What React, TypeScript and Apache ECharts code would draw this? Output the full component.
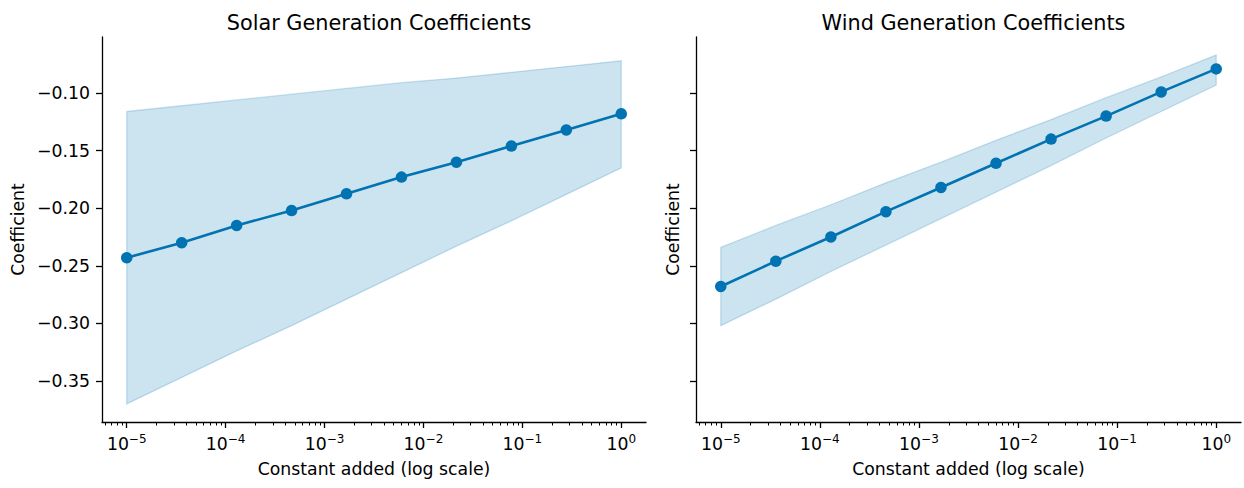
import React, { useEffect, useRef } from "react";
import * as echarts from "echarts";

// Constant added (x) — 10 log-spaced values from 1e-5 to 1
const constants = [1e-5, 3.594e-5, 1.292e-4, 4.642e-4, 1.668e-3, 5.995e-3, 2.154e-2, 7.743e-2, 2.783e-1, 1];

const solarCoef = [-0.243, -0.230, -0.215, -0.202, -0.1875, -0.173, -0.160, -0.146, -0.132, -0.118];
const solarUpper = [-0.116, -0.111, -0.106, -0.101, -0.096, -0.091, -0.087, -0.082, -0.077, -0.072];
const solarLower = [-0.370, -0.347, -0.324, -0.302, -0.279, -0.256, -0.233, -0.211, -0.188, -0.165];

const windCoef = [-0.268, -0.246, -0.225, -0.203, -0.182, -0.161, -0.140, -0.120, -0.099, -0.079];
const windUpper = [-0.234, -0.215, -0.197, -0.178, -0.160, -0.141, -0.123, -0.104, -0.086, -0.067];
const windLower = [-0.302, -0.279, -0.255, -0.232, -0.209, -0.186, -0.163, -0.139, -0.116, -0.093];

const xMajorTicks = [1e-5, 1e-4, 1e-3, 1e-2, 1e-1, 1];
const yTicks = [-0.35, -0.3, -0.25, -0.2, -0.15, -0.1];

const titles = ["Solar Generation Coefficients", "Wind Generation Coefficients"];

const X_MIN = Math.pow(10, -5.25);
const X_MAX = Math.pow(10, 0.25);
const Y_MIN = -0.3857;
const Y_MAX = -0.0513;

const BLUE = "#0173b2";
const FILL = "rgba(1,115,178,0.2)";
const FONT = "DejaVu Sans";
const FS = 17.3;

const minorTicks: number[] = [];
for (let d = -6; d <= 0; d++) {
  for (let k = 2; k <= 9; k++) {
    const v = k * Math.pow(10, d);
    if (v >= X_MIN && v <= X_MAX) minorTicks.push(v);
  }
}

function xLabel(v: number) {
  const e = Math.round(Math.log10(v));
  const s = e < 0 ? "\u2212" + Math.abs(e) : String(e);
  return "10{sup|" + s + "}";
}

function yLabel(v: number) {
  return (v < 0 ? "\u2212" : "") + Math.abs(v).toFixed(2);
}

const grids = [
  { left: 102, top: 37, width: 544, height: 385 },
  { left: 696, top: 37, width: 545, height: 385 },
];

export default function App() {
  const ref = useRef<HTMLDivElement>(null);
  useEffect(() => {
    if (!ref.current) return;
    const chart = echarts.init(ref.current, undefined, { renderer: "svg" });

    const xAxes: any[] = [];
    const yAxes: any[] = [];
    const series: any[] = [];
    const panels = [
      { coef: solarCoef, up: solarUpper, lo: solarLower },
      { coef: windCoef, up: windUpper, lo: windLower },
    ];

    panels.forEach((p, gi) => {
      xAxes.push({
        type: "log",
        gridIndex: gi,
        position: "bottom",
        min: X_MIN,
        max: X_MAX,
        name: "Constant added (log scale)",
        nameLocation: "middle",
        nameGap: 38,
        nameTextStyle: { fontFamily: FONT, fontSize: FS, color: "#000" },
        axisLine: { show: true, lineStyle: { color: "#000", width: 1.3 } },
        axisTick: { show: true, length: 6, lineStyle: { color: "#000", width: 1.3 }, customValues: xMajorTicks },
        axisLabel: {
          show: true,
          margin: 11,
          customValues: xMajorTicks,
          formatter: (v: number) => xLabel(v),
          fontFamily: FONT,
          fontSize: FS,
          color: "#000",
          rich: {
            sup: { fontFamily: FONT, fontSize: 12, color: "#000", verticalAlign: "bottom", padding: [0, 0, 9, 0] },
          },
        },
        splitLine: { show: false },
        minorTick: { show: false },
      });
      xAxes.push({
        type: "log",
        gridIndex: gi,
        position: "bottom",
        min: X_MIN,
        max: X_MAX,
        axisLine: { show: false },
        axisTick: { show: true, length: 3.5, lineStyle: { color: "#000", width: 1 }, customValues: minorTicks },
        axisLabel: { show: false },
        splitLine: { show: false },
      });
      yAxes.push({
        type: "value",
        gridIndex: gi,
        min: Y_MIN,
        max: Y_MAX,
        name: "Coefficient",
        nameLocation: "middle",
        nameGap: gi === 0 ? 76 : 15,
        nameTextStyle: { fontFamily: FONT, fontSize: FS, color: "#000" },
        axisLine: { show: true, lineStyle: { color: "#000", width: 1.3 } },
        axisTick: { show: true, length: 6, lineStyle: { color: "#000", width: 1.3 }, customValues: yTicks },
        axisLabel: {
          show: gi === 0,
          margin: 12,
          customValues: yTicks,
          formatter: (v: number) => yLabel(v),
          fontFamily: FONT,
          fontSize: FS,
          color: "#000",
        },
        splitLine: { show: false },
      });

      const rows = constants.map((x, i) => [x, p.lo[i], p.up[i]]);
      series.push({
        type: "custom",
        xAxisIndex: gi * 2,
        yAxisIndex: gi,
        data: rows,
        encode: { x: 0, y: [1, 2] },
        silent: true,
        z: 1,
        renderItem: (params: any, api: any) => {
          if (params.dataIndex !== 0) return null;
          const top = rows.map((r) => api.coord([r[0], r[2]]));
          const bot = rows.map((r) => api.coord([r[0], r[1]])).reverse();
          return {
            type: "polygon",
            shape: { points: top.concat(bot) },
            style: { fill: FILL, stroke: FILL, lineWidth: 1.3 },
          };
        },
      });
      series.push({
        type: "line",
        xAxisIndex: gi * 2,
        yAxisIndex: gi,
        data: constants.map((x, i) => [x, p.coef[i]]),
        symbol: "circle",
        symbolSize: 11.5,
        itemStyle: { color: BLUE },
        lineStyle: { color: BLUE, width: 2.6 },
        z: 3,
      });
    });

    chart.setOption({
      animation: false,
      backgroundColor: "#fff",
      title: titles.map((t, i) => ({
        text: t,
        left: grids[i].left + grids[i].width / 2,
        top: 7,
        textAlign: "center",
        textStyle: { fontFamily: FONT, fontSize: 20.8, fontWeight: "normal", color: "#000" },
      })),
      grid: grids.map((g) => ({ ...g, containLabel: false })),
      xAxis: xAxes,
      yAxis: yAxes,
      series,
    });
    return () => chart.dispose();
  }, []);
  return <div ref={ref} style={{ position: "fixed", left: 0, top: 0, width: 1244, height: 488 }} />;
}
